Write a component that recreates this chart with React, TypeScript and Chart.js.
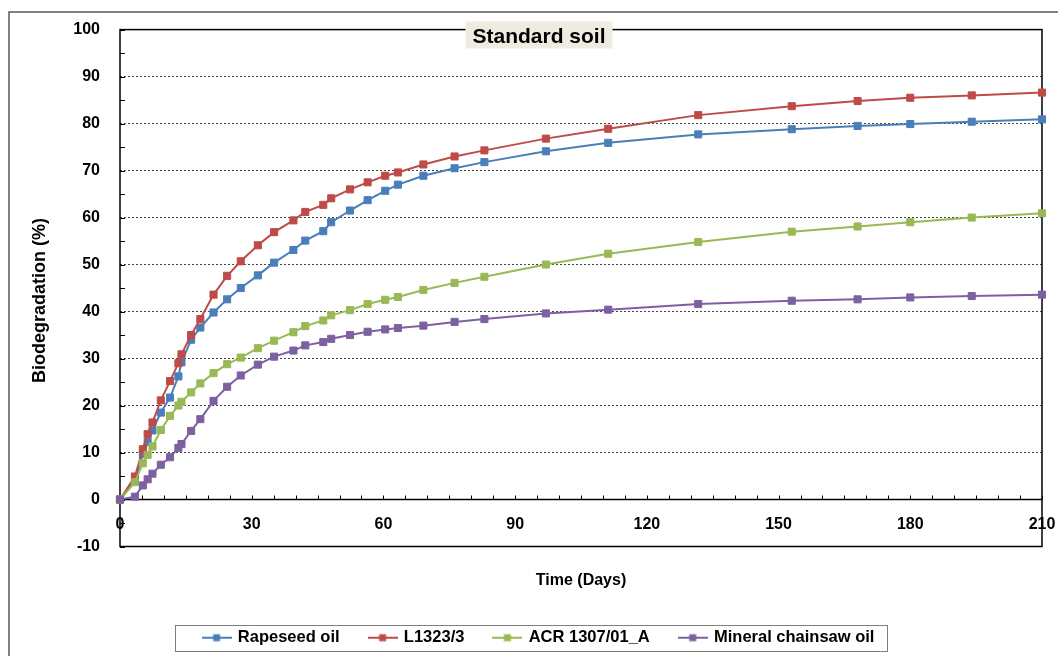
import React, { useEffect, useRef } from "react";
import { Chart, registerables } from "chart.js";

Chart.register(...registerables);

// ---- data ----
const days = [0, 3.4, 5.2, 6.3, 7.4, 9.3, 11.4, 13.3, 14, 16.2, 18.3, 21.3, 24.4, 27.5, 31.4, 35.1, 39.5, 42.2, 46.3, 48.1, 52.4, 56.4, 60.4, 63.3, 69.1, 76.2, 83, 97, 111.2, 131.7, 153, 168, 180, 194, 210];
const rapeseedOil = [0, 4.0, 9.7, 12.2, 14.7, 18.5, 21.7, 26.2, 29.2, 34.0, 36.6, 39.8, 42.6, 45.0, 47.7, 50.4, 53.1, 55.1, 57.1, 59.0, 61.5, 63.7, 65.7, 67.0, 68.9, 70.5, 71.8, 74.1, 75.9, 77.7, 78.8, 79.5, 79.9, 80.4, 80.9];
const l1323 = [0, 4.9, 10.7, 13.9, 16.4, 21.1, 25.2, 29.0, 30.9, 35.0, 38.4, 43.6, 47.6, 50.7, 54.1, 56.9, 59.4, 61.2, 62.7, 64.1, 66.0, 67.5, 68.9, 69.6, 71.3, 73.0, 74.3, 76.8, 78.9, 81.8, 83.7, 84.8, 85.5, 86.0, 86.6];
const acr1307 = [0, 3.7, 7.7, 9.5, 11.3, 14.8, 17.8, 20.0, 20.8, 22.8, 24.7, 26.9, 28.8, 30.2, 32.2, 33.8, 35.6, 36.9, 38.1, 39.2, 40.3, 41.6, 42.5, 43.1, 44.6, 46.1, 47.4, 50.0, 52.3, 54.8, 57.0, 58.1, 59.0, 60.0, 60.9];
const mineralChainsawOil = [0, 0.6, 3.0, 4.3, 5.5, 7.4, 9.0, 11.0, 11.8, 14.6, 17.1, 21.0, 24.0, 26.4, 28.7, 30.4, 31.7, 32.8, 33.5, 34.2, 35.0, 35.7, 36.2, 36.5, 37.0, 37.8, 38.4, 39.6, 40.4, 41.6, 42.3, 42.6, 43.0, 43.3, 43.6];

const seriesLabels = ["Rapeseed oil", "L1323/3", "ACR 1307/01_A", "Mineral chainsaw oil"];
const seriesValues = [rapeseedOil, l1323, acr1307, mineralChainsawOil];
const seriesColors = ["#4A7EBB", "#BE4B48", "#98B954", "#7D60A0"];

const xMin = 0;
const xMax = 210;
const xStep = 30;
const xMinorStep = 5;
const yMin = -10;
const yMax = 100;
const yStep = 10;
const yMinorStep = 5;

const chartTitle = "Standard soil";
const xTitle = "Time (Days)";
const yTitle = "Biodegradation (%)";

const FONT = '"Liberation Sans", Arial, Helvetica, sans-serif';
const TITLE_SIZE = 21;

function legendIcon(color: string): HTMLCanvasElement {
  const c = document.createElement("canvas");
  c.width = 30;
  c.height = 10;
  const g = c.getContext("2d")!;
  g.strokeStyle = color;
  g.lineWidth = 2;
  g.beginPath();
  g.moveTo(0, 5);
  g.lineTo(30, 5);
  g.stroke();
  g.fillStyle = color;
  g.fillRect(11.5, 1.5, 7, 7);
  return c;
}

const decorPlugin = {
  id: "decor",
  beforeDraw(chart: any) {
    const ctx = chart.ctx;
    ctx.save();
    ctx.strokeStyle = "#595959";
    ctx.lineWidth = 1.5;
    ctx.beginPath();
    ctx.moveTo(9, chart.height + 2);
    ctx.lineTo(9, 12);
    ctx.lineTo(chart.width + 2, 12);
    ctx.stroke();
    ctx.restore();
  },
  beforeDatasetsDraw(chart: any) {
    const { ctx, chartArea: a, scales } = chart;
    const x = scales.x;
    const y = scales.y;
    ctx.save();
    ctx.strokeStyle = "#000";
    ctx.lineWidth = 1.5;
    ctx.strokeRect(a.left, a.top, a.right - a.left, a.bottom - a.top);
    const y0 = y.getPixelForValue(0);
    ctx.beginPath();
    ctx.moveTo(a.left, y0);
    ctx.lineTo(a.right, y0);
    ctx.stroke();
    ctx.lineWidth = 1;
    ctx.beginPath();
    for (let v = yMin; v <= yMax; v += yMinorStep) {
      const py = Math.round(y.getPixelForValue(v)) + 0.5;
      ctx.moveTo(a.left, py);
      ctx.lineTo(a.left + 5, py);
    }
    for (let d = xMin; d <= xMax; d += xMinorStep) {
      const px = Math.round(x.getPixelForValue(d)) + 0.5;
      ctx.moveTo(px, y0);
      ctx.lineTo(px, y0 - 4);
    }
    ctx.stroke();
    ctx.restore();
  },
  afterDraw(chart: any) {
    const ctx = chart.ctx;
    const t = chart.titleBlock;
    if (t) {
      ctx.save();
      ctx.font = `bold ${TITLE_SIZE}px ${FONT}`;
      const w = ctx.measureText(chartTitle).width;
      const cx = (t.left + t.right) / 2;
      ctx.fillStyle = "#EEECE1";
      ctx.fillRect(cx - w / 2 - 7, 21.5, w + 14, 27);
      ctx.restore();
      t.draw();
    }
    const lg = chart.legend;
    if (lg && lg.legendHitBoxes && lg.legendHitBoxes.length) {
      const hb = lg.legendHitBoxes;
      const first = hb[0];
      const last = hb[hb.length - 1];
      const cy = first.top + first.height / 2;
      ctx.save();
      ctx.strokeStyle = "#7f7f7f";
      ctx.lineWidth = 1;
      const left = Math.round(first.left - 29) + 0.5;
      const right = Math.round(last.left + last.width + 13) + 0.5;
      const top = Math.round(cy - 13) + 0.5;
      const bottom = Math.round(cy + 13) + 0.5;
      ctx.strokeRect(left, top, right - left, bottom - top);
      ctx.restore();
    }
  },
};

export default function App() {
  const canvasRef = useRef<HTMLCanvasElement | null>(null);

  useEffect(() => {
    const canvas = canvasRef.current;
    if (!canvas) return;
    const icons = seriesColors.map((c) => legendIcon(c));
    const datasets = seriesLabels.map((label, i) => ({
      label,
      data: days.map((d, j) => ({ x: d, y: seriesValues[i][j] })),
      borderColor: seriesColors[i],
      backgroundColor: seriesColors[i],
      borderWidth: 2,
      pointStyle: "rect",
      pointRadius: 5,
      pointBorderWidth: 1,
      pointBorderColor: seriesColors[i],
      pointBackgroundColor: seriesColors[i],
      tension: 0,
      order: seriesLabels.length - i,
      clip: false,
    }));

    const chart = new Chart(canvas, {
      type: "line",
      data: { datasets },
      plugins: [decorPlugin],
      options: {
        animation: false,
        responsive: false,
        events: [],
        font: { family: FONT },
        color: "#000",
        layout: { padding: { left: 36, right: 16, top: 0, bottom: 0 } },
        plugins: {
          title: {
            display: true,
            text: chartTitle,
            color: "#000",
            font: { family: FONT, size: TITLE_SIZE, weight: "bold" },
            padding: { top: 22.4, bottom: -20.6 },
          },
          legend: {
            display: true,
            position: "bottom",
            labels: {
              usePointStyle: true,
              pointStyleWidth: 26,
              padding: 30,
              color: "#000",
              font: { family: FONT, size: 16.5, weight: "bold" },
              sort: (a: any, b: any) => a.datasetIndex - b.datasetIndex,
              generateLabels: (ch: any) => {
                const items = (Chart.defaults.plugins.legend.labels as any).generateLabels(ch);
                return items.map((it: any) => ({ ...it, pointStyle: icons[it.datasetIndex] }));
              },
            },
          },
          tooltip: { enabled: false },
        },
        scales: {
          x: {
            type: "linear",
            position: "bottom",
            min: xMin,
            max: xMax,
            border: { display: false },
            grid: { display: false, drawTicks: false },
            ticks: {
              stepSize: xStep,
              mirror: true,
              padding: 12.6,
              color: "#000",
              font: { family: FONT, size: 16, weight: "bold" },
              maxRotation: 0,
            },
            title: {
              display: true,
              text: xTitle,
              color: "#000",
              font: { family: FONT, size: 16, weight: "bold" },
              padding: { top: 0, bottom: 9.4 },
            },
            afterFit: (s: any) => {
              s.height = 53;
              s.paddingLeft = 0;
              s.paddingRight = 0;
            },
          },
          y: {
            type: "linear",
            position: "left",
            min: yMin,
            max: yMax,
            border: { display: false, dash: [2, 2] },
            grid: {
              drawTicks: false,
              lineWidth: 1,
              color: (c: any) => {
                const v = c.tick ? c.tick.value : NaN;
                return v === yMin || v === 0 || v === yMax ? "rgba(0,0,0,0)" : "#444444";
              },
            },
            ticks: {
              stepSize: yStep,
              padding: 20,
              color: "#000",
              font: { family: FONT, size: 16, weight: "bold" },
            },
            title: {
              display: true,
              text: yTitle + "     ",
              color: "#000",
              font: { family: FONT, size: 18, weight: "bold" },
              padding: { top: -7, bottom: 0 },
            },
            afterFit: (s: any) => {
              s.width = 84;
            },
          },
        },
      } as any,
    });
    return () => chart.destroy();
  }, []);

  return (
    <div style={{ position: "absolute", left: 0, top: 0, width: 1058, height: 656, background: "#fff" }}>
      <canvas ref={canvasRef} width={1058} height={656} style={{ display: "block" }} />
    </div>
  );
}
